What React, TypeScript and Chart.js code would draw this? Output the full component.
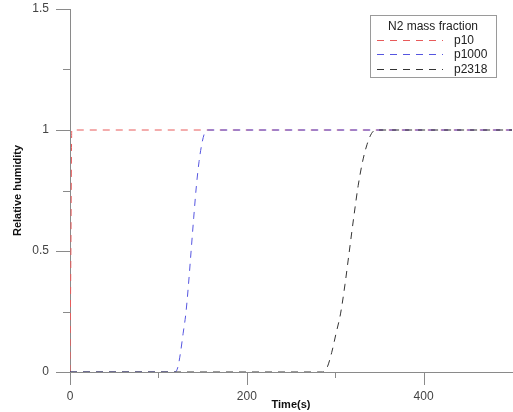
import React, { useEffect, useRef } from "react";
import { Chart, registerables } from "chart.js";

Chart.register(...registerables);

// ---- data ----
const seriesNames = ["p10", "p1000", "p2318"];
const legendTitle = "N2 mass fraction";

const p10Time = [0, 1, 2, 500];
const p10Rh = [0, 0.5, 1, 1];

const p1000Time = [0, 114, 119, 122, 125, 128, 131, 134, 137, 140, 143, 146, 149, 152, 155, 500];
const p1000Rh = [0, 0, 0, 0.02, 0.08, 0.16, 0.24, 0.36, 0.5, 0.64, 0.77, 0.87, 0.94, 0.985, 1, 1];

const p2318Time = [0, 280, 286, 291, 296, 301, 306, 311, 316, 321, 326, 331, 336, 341, 346, 500];
const p2318Rh = [0, 0, 0, 0.02, 0.08, 0.16, 0.24, 0.36, 0.5, 0.64, 0.77, 0.87, 0.94, 0.985, 1, 1];

const xMajorTicks = [0, 200, 400];
const xMinorTicks = [100, 300];
const yMajorTicks = [0, 0.5, 1, 1.5];
const yMinorTicks = [0.25, 0.75, 1.25];
const xTitle = "Time(s)";
const yTitle = "Relative humidity";

const colors = ["#e85a5a", "#5555e0", "#333333"];
const dash = [7, 6];
const FONT = "'Liberation Sans', Arial, Helvetica, sans-serif";

const toPoints = (xs: number[], ys: number[]) => xs.map((x, i) => ({ x, y: ys[i] }));

const tickPlugin = {
  id: "customTicks",
  afterDraw(chart: any) {
    const { ctx, scales } = chart;
    const xs = scales.x;
    const ys = scales.y;
    ctx.save();
    ctx.strokeStyle = "#8a8a8a";
    ctx.lineWidth = 1;
    const axisY = ys.getPixelForValue(0);
    const axisX = xs.getPixelForValue(0);
    const drawX = (v: number, len: number) => {
      const px = Math.round(xs.getPixelForValue(v)) + 0.5;
      ctx.beginPath();
      ctx.moveTo(px, axisY);
      ctx.lineTo(px, axisY + len);
      ctx.stroke();
    };
    const drawY = (v: number, len: number) => {
      const py = Math.round(ys.getPixelForValue(v)) + 0.5;
      ctx.beginPath();
      ctx.moveTo(axisX, py);
      ctx.lineTo(axisX - len, py);
      ctx.stroke();
    };
    xMajorTicks.forEach((v) => drawX(v, 13));
    xMinorTicks.forEach((v) => drawX(v, 6));
    yMajorTicks.forEach((v) => drawY(v, 14));
    yMinorTicks.forEach((v) => drawY(v, 7));
    ctx.restore();
  },
};

const legendPlugin = {
  id: "boxLegend",
  afterDraw(chart: any) {
    const { ctx, chartArea } = chart;
    const w = 126;
    const h = 62;
    const right = chartArea.right - 16;
    const left = right - w;
    const top = chartArea.top + 6;
    ctx.save();
    ctx.fillStyle = "#ffffff";
    ctx.fillRect(left, top, w, h);
    ctx.strokeStyle = "#9a9a9a";
    ctx.lineWidth = 1;
    ctx.strokeRect(Math.round(left) + 0.5, Math.round(top) + 0.5, w, h);
    ctx.font = `12px ${FONT}`;
    ctx.fillStyle = "#222";
    ctx.textAlign = "center";
    ctx.textBaseline = "middle";
    ctx.fillText(legendTitle, left + w / 2, top + 12);
    seriesNames.forEach((name, i) => {
      const y = Math.round(top + 24.5 + i * 14.5) + 0.5;
      ctx.strokeStyle = colors[i];
      ctx.lineWidth = 1;
      ctx.setLineDash(dash);
      ctx.beginPath();
      ctx.moveTo(left + 7, y);
      ctx.lineTo(left + 73, y);
      ctx.stroke();
      ctx.setLineDash([]);
      ctx.fillStyle = "#222";
      ctx.textAlign = "left";
      ctx.fillText(name, left + 84, y);
    });
    ctx.restore();
  },
};

export default function App() {
  const ref = useRef<HTMLCanvasElement | null>(null);
  useEffect(() => {
    document.body.style.margin = "0";
    const canvas = ref.current;
    if (!canvas) return;
    Chart.defaults.font.family = FONT;
    const mk = (i: number, xs: number[], ys: number[], order: number) => ({
      label: seriesNames[i],
      data: toPoints(xs, ys),
      borderColor: colors[i],
      backgroundColor: colors[i],
      borderWidth: 1,
      borderDash: dash,
      pointRadius: 0,
      fill: false,
      cubicInterpolationMode: "monotone" as const,
      order,
    });
    const chart = new Chart(canvas, {
      type: "line",
      data: {
        datasets: [
          mk(0, p10Time, p10Rh, 3),
          mk(1, p1000Time, p1000Rh, 2),
          mk(2, p2318Time, p2318Rh, 1),
        ],
      },
      options: {
        animation: false,
        responsive: false,
        maintainAspectRatio: false,
        layout: { padding: { top: 9, right: 1, left: 0, bottom: 0 } },
        plugins: { legend: { display: false }, tooltip: { enabled: false } },
        scales: {
          x: {
            type: "linear",
            min: 0,
            max: 500,
            afterFit: (s: any) => {
              s.height = 40;
            },
            afterBuildTicks: (s: any) => {
              s.ticks = xMajorTicks.map((v) => ({ value: v }));
            },
            ticks: {
              padding: 0,
              color: "#444",
              font: { size: 12 },
              maxRotation: 0,
              callback: (v: any) => String(v),
            },
            grid: {
              display: true,
              drawOnChartArea: false,
              drawTicks: true,
              tickLength: 17,
              tickColor: "rgba(0,0,0,0)",
            },
            border: { display: true, color: "#8a8a8a", width: 1 },
            title: {
              display: true,
              text: xTitle,
              color: "#111",
              font: { size: 11, weight: "bold" },
              padding: { top: 0, bottom: 0 },
            },
          },
          y: {
            type: "linear",
            min: 0,
            max: 1.5,
            afterFit: (s: any) => {
              s.width = 70;
            },
            afterBuildTicks: (s: any) => {
              s.ticks = yMajorTicks.map((v) => ({ value: v }));
            },
            ticks: {
              padding: 0,
              color: "#444",
              font: { size: 12 },
              callback: (v: any) => String(v),
            },
            grid: {
              display: true,
              drawOnChartArea: false,
              drawTicks: true,
              tickLength: 21,
              tickColor: "rgba(0,0,0,0)",
            },
            border: { display: true, color: "#8a8a8a", width: 1 },
            title: {
              display: true,
              text: yTitle,
              color: "#111",
              font: { size: 11, weight: "bold" },
              padding: { top: 11, bottom: 0 },
            },
          },
        },
      },
      plugins: [tickPlugin, legendPlugin],
    });
    return () => chart.destroy();
  }, []);
  return (
    <div style={{ width: 513, height: 412, background: "#fff" }}>
      <canvas ref={ref} width={513} height={412} style={{ display: "block" }} />
    </div>
  );
}
